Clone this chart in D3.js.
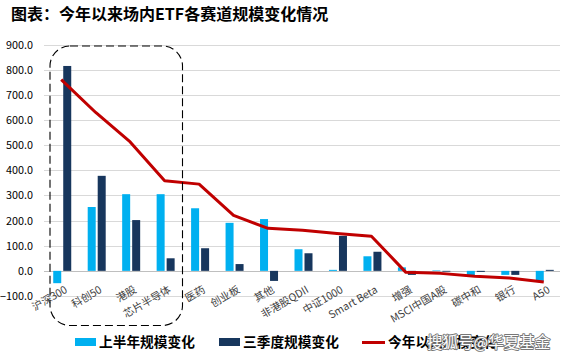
<!DOCTYPE html>
<html><head><meta charset="utf-8">
<script src="https://cdn.jsdelivr.net/npm/d3@7"></script>
<style>body{margin:0;background:#fff}svg{display:block}</style>
</head><body>
<svg id="c" width="567" height="356"></svg>
<script>
const categories = ["沪深300","科创50","港股","芯片半导体","医药","创业板","其他","非港股QDII","中证1000","Smart Beta","增强","MSCI中国A股","碳中和","银行","A50"];
const h1Change = [-49, 254, 305, 305, 249, 191, 206, 86, 4, 58, 14, 2, -17, -16, -41];
const q3Change = [815, 378, 202, 50, 90, 27, -40, 70, 139, 76, -16, -3, -4, -16, 4];
const ytdChange = [761, 630, 513, 358, 345, 221, 169, 162, 149, 138, -6, -10, -21, -28, -44];
const yTicks = [-100, 0, 100, 200, 300, 400, 500, 600, 700, 800, 900];
const seriesNames = ["上半年规模变化", "三季度规模变化", "今年以来规模变化"];
const titleText = "图表：今年以来场内ETF各赛道规模变化情况";
const watermark = "搜狐号@华夏基金";

const svg = d3.select("#c");
const font = "'Noto Sans CJK SC','Microsoft YaHei',sans-serif";
const cLight = "#00B0F0", cDark = "#17365D", cRed = "#C00000";

const x = d3.scaleBand().domain(categories).range([45, 562]).paddingInner(0).paddingOuter(0);
const y = d3.scaleLinear().domain([-100, 900]).range([296, 44.6]);

svg.append("text").attr("x", 11).attr("y", 20).attr("font-family", font)
  .attr("font-size", 16).attr("font-weight", "bold").attr("fill", "#000").text(titleText);

// gridlines
svg.append("g").selectAll("line").data(yTicks).join("line")
  .attr("x1", 44).attr("x2", 560).attr("y1", d => Math.round(y(d)) + 0.5).attr("y2", d => Math.round(y(d)) + 0.5)
  .attr("stroke", d => d === 0 ? "#BFBFBF" : "#D9D9D9").attr("stroke-width", 1);

// y axis labels
const yAxis = d3.axisLeft(y).tickValues(yTicks).tickFormat(d3.format(".1f")).tickSize(0).tickPadding(0);
const ga = svg.append("g").attr("transform", "translate(33,0)").call(yAxis);
ga.select(".domain").remove();
ga.selectAll("text").attr("font-family", font).attr("font-size", 10.8).attr("fill", "#000");

const bw = 8;
const cx = d => x(d) + x.bandwidth() / 2;
// bars
svg.append("g").selectAll("rect").data(categories).join("rect")
  .attr("x", (d) => cx(d) - bw - 1).attr("width", bw)
  .attr("y", (d, i) => y(Math.max(0, h1Change[i]))).attr("height", (d, i) => Math.abs(y(h1Change[i]) - y(0)))
  .attr("fill", cLight);
svg.append("g").selectAll("rect").data(categories).join("rect")
  .attr("x", (d) => cx(d) + 1).attr("width", bw)
  .attr("y", (d, i) => y(Math.max(0, q3Change[i]))).attr("height", (d, i) => Math.abs(y(q3Change[i]) - y(0)))
  .attr("fill", cDark);

// x labels
svg.append("g").selectAll("text").data(categories).join("text")
  .attr("transform", d => `translate(${cx(d) + 2},${285}) rotate(-30)`)
  .attr("text-anchor", "end").attr("dy", "0.75em")
  .attr("font-family", font).attr("font-size", 10.5).attr("fill", "#404040").text(d => d);

// line
const line = d3.line().x((d, i) => cx(categories[i]) - 1).y(d => y(d));
svg.append("path").datum(ytdChange).attr("d", line).attr("fill", "none")
  .attr("stroke", cRed).attr("stroke-width", 3).attr("stroke-linejoin", "round");

// dashed rounded box
svg.append("rect").attr("x", 50).attr("y", 46).attr("width", 132.5).attr("height", 279.5)
  .attr("rx", 20).attr("ry", 20).attr("fill", "none").attr("stroke", "#000")
  .attr("stroke-width", 1.1).attr("stroke-dasharray", "8,4");

// legend
const lg = svg.append("g").attr("font-family", font).attr("font-size", 13.7).attr("font-weight", "bold").attr("fill", "#000");
lg.append("rect").attr("x", 75).attr("y", 338).attr("width", 21).attr("height", 8).attr("fill", cLight);
lg.append("text").attr("x", 99).attr("y", 347).text(seriesNames[0]);
lg.append("rect").attr("x", 219).attr("y", 338).attr("width", 21).attr("height", 8).attr("fill", cDark);
lg.append("text").attr("x", 243).attr("y", 347).text(seriesNames[1]);
lg.append("line").attr("x1", 362).attr("x2", 385).attr("y1", 342.5).attr("y2", 342.5).attr("stroke", cRed).attr("stroke-width", 3);
lg.append("text").attr("x", 388).attr("y", 347).text(seriesNames[2]);

// watermark
svg.append("text").attr("x", 427).attr("y", 348).attr("font-family", font).attr("font-size", 15.5)
  .attr("fill", "#fff").attr("stroke", "#777").attr("stroke-width", 1.8).attr("paint-order", "stroke")
  .attr("stroke-linejoin", "round").text(watermark);
</script>
</body></html>
